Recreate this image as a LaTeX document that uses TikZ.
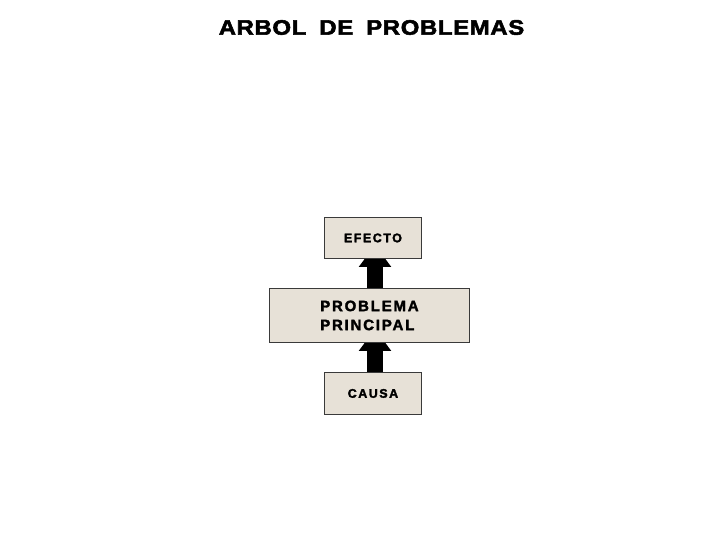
\documentclass[tikz,border=0pt]{standalone}
\usepackage{fontspec}
\setmainfont{Liberation Sans}
\newfontfamily\titlefont[FakeStretch=1.14,LetterSpace=3,FakeBold=2.5]{Liberation Sans Bold}
\newfontfamily\boxfont[LetterSpace=12,FakeBold=2.2]{Liberation Sans Bold}
\usetikzlibrary{backgrounds,arrows.meta}
\definecolor{boxfill}{HTML}{E7E1D7}
\definecolor{boxline}{HTML}{3A3A3A}
\tikzset{
  treebox/.style={draw=boxline, line width=0.9pt, fill=boxfill, inner sep=0pt, anchor=north west},
  boxtext/.style={font=\boxfont\fontsize{12.5}{15}\selectfont},
  bigarrow/.style={line width=16pt, black, -{Triangle[width=31pt,length=22pt]}, shorten >=-14pt},
}
\begin{document}
\begin{tikzpicture}[x=1pt,y=-1pt]
\begin{scope}[on background layer]
\fill[white] (0,0) rectangle (720,540);
\end{scope}
\useasboundingbox (0,0) rectangle (720,540);
\node[font=\titlefont\fontsize{21}{24}\selectfont] (title) at (371.5,27.5) {ARBOL\hspace{13pt}DE\hspace{13pt}PROBLEMAS};
\coordinate (axis) at (375,0);
\node[treebox, minimum width=97pt, minimum height=41pt] (efecto) at (324,217) {};
\node[treebox, minimum width=200pt, minimum height=54pt] (prob) at (269,288) {};
\node[treebox, minimum width=97pt, minimum height=42pt] (causa) at (324,372) {};
\begin{scope}[on background layer]
\draw[bigarrow] (prob.north -| axis) -- (efecto.south -| axis);
\draw[bigarrow] (causa.north -| axis) -- (prob.south -| axis);
\end{scope}
\node[boxtext] (efectotext) at (efecto.center) {EFECTO};
\node[align=left, font=\boxfont\fontsize{15}{19}\selectfont] (probtext) at (prob.center) {PROBLEMA\\PRINCIPAL};
\node[boxtext] (causatext) at (causa.center) {CAUSA};
\end{tikzpicture}
\end{document}
